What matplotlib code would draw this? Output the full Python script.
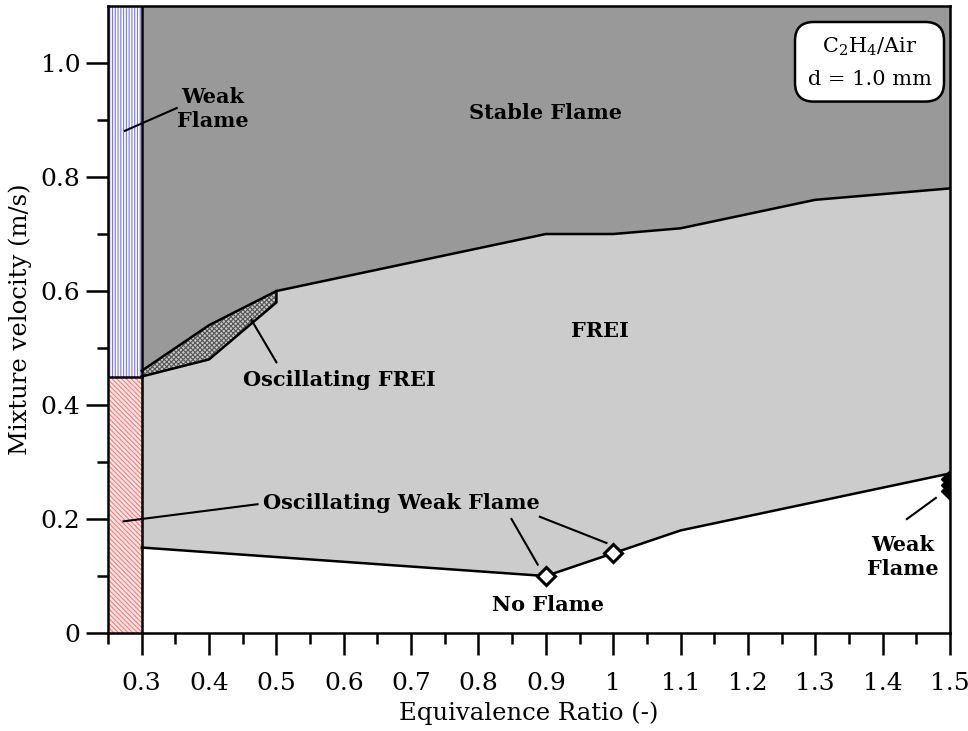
import numpy as np
import matplotlib
matplotlib.use('Agg')
import matplotlib.pyplot as plt

plt.rcParams['font.family'] = ['DejaVu Serif']
plt.rcParams['mathtext.fontset'] = 'dejavuserif'
plt.rcParams['hatch.linewidth'] = 0.8

# data
upper_x = [0.3, 0.4, 0.5, 0.9, 1.0, 1.1, 1.3, 1.5]
upper_y = [0.46, 0.54, 0.60, 0.70, 0.70, 0.71, 0.76, 0.78]
lower_x = [0.3, 0.9, 1.0, 1.1, 1.3, 1.5]
lower_y = [0.15, 0.10, 0.14, 0.18, 0.23, 0.28]
osc_x = [0.3, 0.4, 0.5, 0.5]
osc_y = [0.45, 0.48, 0.58, 0.60]
open_x = [0.9, 1.0]
open_y = [0.10, 0.14]
weak_x = [1.5, 1.5, 1.5]
weak_y = [0.27, 0.26, 0.25]
phi_lean = 0.3
v_weak = 0.45
xmin, xmax = 0.25, 1.5
ymin, ymax = 0.0, 1.1

fig = plt.figure(figsize=(9.68, 7.31), dpi=100)
ax = fig.add_axes([0.1116, 0.134, 0.8698, 0.8578])

# regions
ax.fill_between(upper_x, upper_y, ymax, color='#999999', lw=0)
ax.fill_between(np.array(upper_x), np.interp(upper_x, lower_x, lower_y), upper_y,
                color='#cccccc', lw=0)
px = upper_x[:3] + osc_x[::-1]
py = upper_y[:3] + osc_y[::-1]
ax.fill(px, py, facecolor='#c8c8c8', edgecolor='#555555', hatch='xxxxxxx', lw=0)
ax.fill_between([xmin, phi_lean], v_weak, ymax, facecolor='white',
                edgecolor='#7777ff', hatch='||||||', lw=0)
ax.fill_between([xmin, phi_lean], ymin, v_weak, facecolor='#ffe8e8',
                edgecolor='#ff7777', hatch='\\\\\\\\\\\\\\', lw=0)

# boundaries
ax.plot(upper_x, upper_y, color='black', lw=1.8)
ax.plot(lower_x, lower_y, color='black', lw=1.8)
ax.plot(osc_x, osc_y, color='black', lw=1.8)
ax.plot([phi_lean, phi_lean], [ymin, ymax], color='black', lw=1.8)
ax.plot([xmin, phi_lean], [v_weak, v_weak], color='black', lw=1.8)
ax.plot(open_x, open_y, 'D', ms=9, mfc='white', mec='black', mew=2.2)
ax.plot(weak_x, weak_y, 'D', ms=9, mfc='black', mec='black')

# labels
bold = dict(fontsize=15, fontweight='bold', ha='center', va='center')
ax.text(0.9, 0.912, 'Stable Flame', **bold)
ax.text(0.98, 0.53, 'FREI', **bold)
ax.text(0.405, 0.92, 'Weak\nFlame', linespacing=1.25, **bold)
ax.plot([0.352, 0.275], [0.921, 0.881], color='black', lw=1.5)
ax.text(0.594, 0.444, 'Oscillating FREI', **bold)
ax.plot([0.5, 0.463], [0.475, 0.549], color='black', lw=1.5)
ax.text(0.686, 0.228, 'Oscillating Weak Flame', **bold)
ax.plot([0.472, 0.273], [0.226, 0.196], color='black', lw=1.5)
ax.plot([0.849, 0.888], [0.2, 0.12], color='black', lw=1.5)
ax.plot([0.891, 0.99], [0.204, 0.158], color='black', lw=1.5)
ax.text(0.903, 0.049, 'No Flame', **bold)
ax.text(1.43, 0.133, 'Weak\nFlame', linespacing=1.25, **bold)
ax.plot([1.436, 1.479], [0.2, 0.237], color='black', lw=1.5)

ax.text(1.3805, 1.001, 'C$_2$H$_4$/Air\nd = 1.0 mm', fontsize=15, ha='center',
        va='center', linespacing=1.8,
        bbox=dict(boxstyle='round,pad=0.6,rounding_size=0.9', fc='white',
                  ec='black', lw=1.8))

# axes
ax.set_xlim(xmin, xmax)
ax.set_ylim(ymin, ymax)
xt = np.round(np.arange(0.3, 1.51, 0.1), 1)
ax.set_xticks(xt)
ax.set_xticklabels(['1' if v == 1.0 else '%g' % v for v in xt])
ax.set_xticks(np.round(np.arange(0.25, 1.5, 0.1), 2), minor=True)
yt = np.round(np.arange(0, 1.01, 0.2), 1)
ax.set_yticks(yt)
ax.set_yticklabels(['0' if v == 0 else '%.1f' % v for v in yt])
ax.set_yticks(np.round(np.arange(0.1, 1.0, 0.2), 1), minor=True)
ax.tick_params(which='major', length=16, width=1.8, labelsize=18, direction='out')
ax.tick_params(axis='x', which='major', pad=12)
ax.tick_params(axis='y', which='major', pad=4)
ax.tick_params(which='minor', length=8, width=1.8, direction='out')
for s in ax.spines.values():
    s.set_linewidth(1.8)
ax.set_xlabel('Equivalence Ratio (-)', fontsize=17.5, labelpad=5)
ax.set_ylabel('Mixture velocity (m/s)', fontsize=17.5, labelpad=6)

fig.savefig('out.png', dpi=100)
